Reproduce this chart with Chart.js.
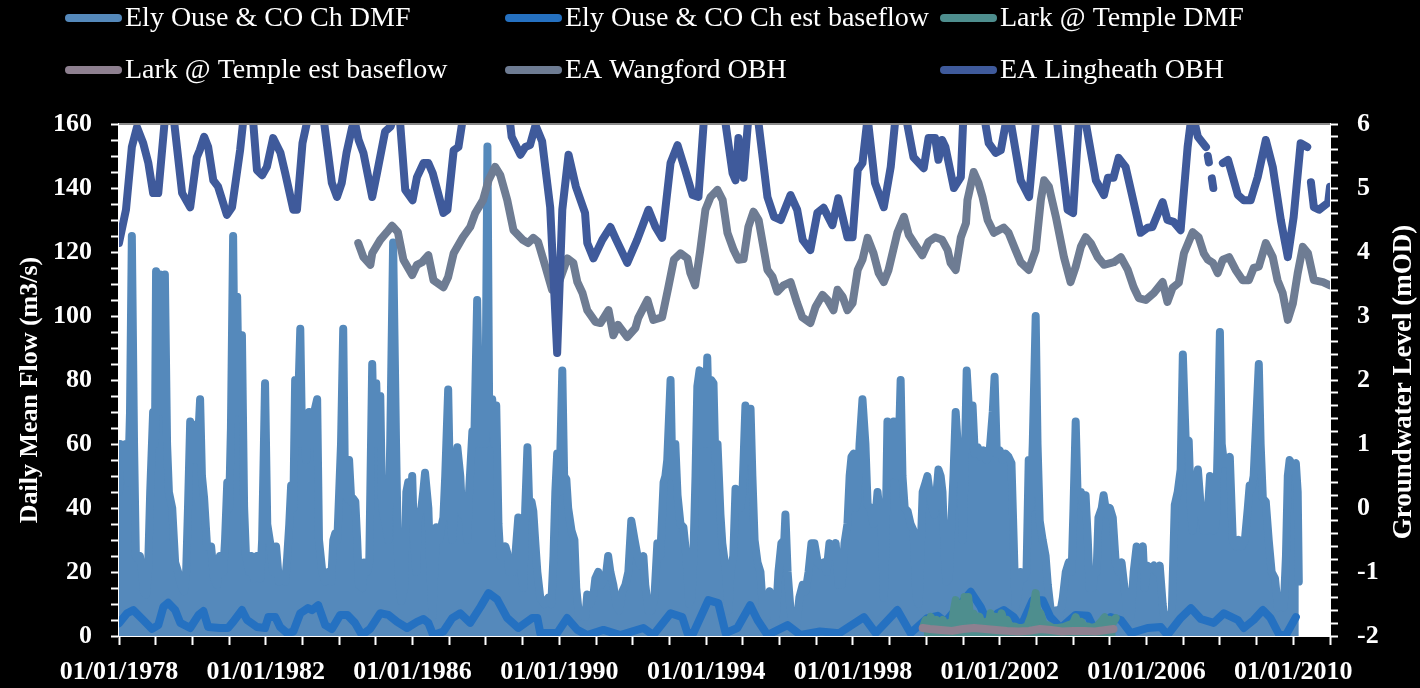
<!DOCTYPE html>
<html>
<head>
<meta charset="utf-8">
<script src="https://cdn.jsdelivr.net/npm/chart.js@4.4.1/dist/chart.umd.min.js"></script>
<style>
  html, body { margin: 0; padding: 0; background: #000; }
</style>
</head>
<body>
<canvas id="flowChart" width="1420" height="688"></canvas>
<script>
// [decimal year, value] - DMF traced as the envelope of the daily record
const elyDmf = [
  [1978.00,45],[1978.03,60],[1978.11,55],[1978.19,60],[1978.25,48],[1978.30,70],[1978.35,125],[1978.41,60],[1978.46,25],[1978.52,24],
  [1978.57,25],[1978.63,20],[1978.68,14],[1978.74,13],[1978.79,20],[1978.85,45],[1978.93,70],[1978.98,60],[1979.01,114],[1979.06,75],
  [1979.12,113],[1979.17,70],[1979.25,113],[1979.31,60],[1979.36,45],[1979.45,40],[1979.53,23],[1979.61,20],[1979.69,16],[1979.77,14],
  [1979.83,20],[1979.88,40],[1979.94,67],[1979.99,55],[1980.05,66],[1980.13,55],[1980.21,74],[1980.26,50],[1980.32,43],[1980.40,28],
  [1980.51,28],[1980.59,18],[1980.67,16],[1980.75,25],[1980.84,20],[1980.89,30],[1980.95,48],[1981.00,40],[1981.05,65],[1981.11,125],
  [1981.16,70],[1981.22,106],[1981.27,70],[1981.35,94],[1981.41,40],[1981.46,25],[1981.55,20],[1981.60,25],[1981.68,18],[1981.76,25],
  [1981.85,18],[1981.90,30],[1981.98,79],[1982.04,35],[1982.12,29],[1982.20,20],[1982.28,28],[1982.36,17],[1982.44,19],[1982.53,17],
  [1982.58,24],[1982.64,35],[1982.69,47],[1982.75,40],[1982.80,80],[1982.85,60],[1982.94,96],[1982.99,60],[1983.04,62],[1983.10,55],
  [1983.18,70],[1983.24,60],[1983.32,70],[1983.40,74],[1983.45,30],[1983.54,20],[1983.62,17],[1983.70,20],[1983.78,17],[1983.84,30],
  [1983.89,32],[1983.95,30],[1984.00,45],[1984.05,60],[1984.11,96],[1984.16,45],[1984.22,43],[1984.27,55],[1984.33,42],[1984.38,43],
  [1984.44,42],[1984.49,30],[1984.54,16],[1984.63,15],[1984.68,23],[1984.76,20],[1984.82,23],[1984.90,85],[1984.95,60],[1985.01,79],
  [1985.06,60],[1985.12,75],[1985.17,40],[1985.25,36],[1985.34,30],[1985.39,60],[1985.47,123],[1985.55,60],[1985.61,20],[1985.69,11],
  [1985.77,15],[1985.83,45],[1985.88,48],[1985.94,40],[1985.99,50],[1986.04,30],[1986.10,20],[1986.15,37],[1986.24,40],[1986.29,45],
  [1986.34,51],[1986.43,40],[1986.48,22],[1986.54,6],[1986.59,20],[1986.65,34],[1986.73,30],[1986.78,34],[1986.84,37],[1986.89,50],
  [1986.97,77],[1987.03,40],[1987.08,30],[1987.16,45],[1987.22,59],[1987.30,50],[1987.35,38],[1987.44,38],[1987.49,30],[1987.54,45],
  [1987.63,64],[1987.68,60],[1987.76,105],[1987.82,65],[1987.87,60],[1987.93,72],[1987.98,60],[1988.04,153],[1988.09,65],[1988.17,74],
  [1988.23,60],[1988.28,72],[1988.34,35],[1988.39,25],[1988.47,25],[1988.53,28],[1988.58,26],[1988.64,20],[1988.72,20],[1988.80,25],
  [1988.88,37],[1988.96,20],[1989.02,15],[1989.07,40],[1989.13,59],[1989.18,40],[1989.24,42],[1989.29,39],[1989.34,30],[1989.40,20],
  [1989.48,12],[1989.59,10],[1989.70,12],[1989.78,10],[1989.84,25],[1989.89,45],[1989.94,57],[1990.00,45],[1990.08,83],[1990.13,50],
  [1990.19,49],[1990.24,40],[1990.33,33],[1990.41,30],[1990.46,15],[1990.54,6],[1990.63,8],[1990.71,6],[1990.76,13],[1990.84,10],
  [1990.93,13],[1990.98,18],[1991.06,20],[1991.14,16],[1991.23,18],[1991.28,20],[1991.33,25],[1991.39,20],[1991.47,16],[1991.55,10],
  [1991.63,8],[1991.72,14],[1991.80,16],[1991.88,20],[1991.96,36],[1992.05,30],[1992.13,25],[1992.21,22],[1992.29,25],[1992.34,16],
  [1992.43,8],[1992.51,8],[1992.59,12],[1992.67,29],[1992.75,25],[1992.84,48],[1992.89,50],[1992.94,55],[1993.03,80],[1993.08,50],
  [1993.16,60],[1993.22,44],[1993.30,35],[1993.38,34],[1993.46,25],[1993.54,10],[1993.60,12],[1993.65,24],[1993.71,50],[1993.76,78],
  [1993.82,83],[1993.87,60],[1993.93,75],[1993.98,60],[1994.03,87],[1994.09,60],[1994.14,80],[1994.20,79],[1994.25,55],[1994.31,60],
  [1994.39,38],[1994.44,29],[1994.53,21],[1994.61,8],[1994.66,20],[1994.74,25],[1994.80,46],[1994.85,40],[1994.93,40],[1994.99,45],
  [1995.07,72],[1995.13,55],[1995.21,71],[1995.26,50],[1995.32,30],[1995.40,23],[1995.48,20],[1995.56,6],[1995.64,6],[1995.73,14],
  [1995.81,10],[1995.89,4],[1995.97,20],[1996.05,29],[1996.13,30],[1996.16,38],[1996.22,20],[1996.30,8],[1996.38,3],[1996.46,3],
  [1996.54,12],[1996.63,16],[1996.71,14],[1996.79,20],[1996.87,29],[1996.95,29],[1997.04,23],[1997.12,22],[1997.20,23],[1997.28,20],
  [1997.36,29],[1997.44,25],[1997.53,29],[1997.61,16],[1997.69,16],[1997.77,29],[1997.85,35],[1997.91,50],[1997.96,56],[1998.02,57],
  [1998.07,40],[1998.12,42],[1998.18,60],[1998.26,74],[1998.34,60],[1998.40,41],[1998.48,40],[1998.56,35],[1998.62,38],[1998.67,45],
  [1998.73,38],[1998.78,35],[1998.84,12],[1998.89,30],[1998.94,67],[1999.00,50],[1999.05,60],[1999.11,67],[1999.19,50],[1999.24,55],
  [1999.30,80],[1999.35,50],[1999.41,40],[1999.49,39],[1999.57,35],[1999.65,33],[1999.73,12],[1999.79,10],[1999.84,25],[1999.90,45],
  [1999.98,48],[2000.03,50],[2000.09,45],[2000.17,40],[2000.22,38],[2000.28,45],[2000.33,52],[2000.39,50],[2000.44,45],[2000.50,25],
  [2000.55,17],[2000.61,18],[2000.66,30],[2000.74,50],[2000.80,70],[2000.88,55],[2000.93,60],[2000.99,30],[2001.04,50],[2001.10,83],
  [2001.15,73],[2001.21,60],[2001.26,72],[2001.32,57],[2001.40,59],[2001.48,56],[2001.56,58],[2001.64,55],[2001.72,57],[2001.81,70],
  [2001.86,81],[2001.92,57],[2002.00,58],[2002.08,55],[2002.16,57],[2002.24,56],[2002.32,54],[2002.38,30],[2002.43,9],[2002.49,12],
  [2002.57,20],[2002.65,18],[2002.73,20],[2002.79,55],[2002.84,40],[2002.90,60],[2002.98,100],[2003.03,60],[2003.09,36],[2003.17,30],
  [2003.25,25],[2003.31,16],[2003.39,8],[2003.47,6],[2003.55,8],[2003.63,6],[2003.72,12],[2003.80,20],[2003.88,23],[2003.96,20],
  [2004.01,40],[2004.07,67],[2004.12,45],[2004.21,45],[2004.29,40],[2004.34,44],[2004.40,30],[2004.45,15],[2004.53,15],[2004.58,20],
  [2004.64,20],[2004.69,37],[2004.78,40],[2004.83,44],[2004.91,38],[2005.00,40],[2005.08,37],[2005.16,23],[2005.24,20],[2005.32,23],
  [2005.40,15],[2005.49,6],[2005.57,6],[2005.65,20],[2005.73,28],[2005.82,25],[2005.90,28],[2005.95,15],[2006.03,22],[2006.11,21],
  [2006.20,22],[2006.28,20],[2006.36,22],[2006.44,10],[2006.52,2],[2006.61,3],[2006.69,8],[2006.77,41],[2006.85,45],[2006.93,52],
  [2006.99,88],[2007.07,60],[2007.15,61],[2007.21,40],[2007.26,33],[2007.34,45],[2007.40,52],[2007.48,40],[2007.56,33],[2007.64,33],
  [2007.73,50],[2007.78,49],[2007.83,33],[2007.89,35],[2007.94,60],[2008.00,95],[2008.05,60],[2008.11,54],[2008.19,54],[2008.27,56],
  [2008.35,30],[2008.43,28],[2008.51,30],[2008.59,28],[2008.68,30],[2008.76,40],[2008.81,47],[2008.86,46],[2008.92,50],[2009.00,70],
  [2009.06,85],[2009.11,60],[2009.17,43],[2009.25,42],[2009.33,30],[2009.41,20],[2009.50,18],[2009.58,9],[2009.66,10],[2009.74,9],
  [2009.80,25],[2009.85,50],[2009.90,55],[2009.99,53],[2010.07,54],[2010.12,45],[2010.15,17]
];

const elyBase = [
  [1978.00,4.0],[1978.22,7.1],[1978.39,8.1],[1978.66,5.0],[1978.90,2.2],[1979.07,3.4],[1979.21,9.1],[1979.34,10.4],[1979.53,8.1],
  [1979.67,4.1],[1979.94,2.5],[1980.17,6.6],[1980.30,7.8],[1980.43,2.8],[1980.75,2.5],[1980.97,2.5],[1981.11,4.4],[1981.35,8.1],
  [1981.49,5.0],[1981.76,2.8],[1981.98,2.5],[1982.07,5.9],[1982.26,5.9],[1982.39,2.8],[1982.58,0.9],[1982.75,1.4],[1982.94,7.1],
  [1983.15,8.7],[1983.26,8.1],[1983.43,9.6],[1983.62,3.4],[1983.80,2.2],[1984.03,6.6],[1984.22,6.6],[1984.43,4.1],[1984.62,0.3],
  [1984.84,2.2],[1985.12,7.1],[1985.34,6.6],[1985.58,4.4],[1985.85,2.5],[1986.12,4.4],[1986.30,5.3],[1986.43,4.1],[1986.56,0.3],
  [1986.84,1.4],[1987.08,5.6],[1987.30,7.1],[1987.57,4.1],[1987.85,9.1],[1988.07,13.4],[1988.30,11.5],[1988.58,5.6],[1988.88,2.5],
  [1989.26,5.6],[1989.40,5.6],[1989.48,0.9],[1989.94,0.9],[1990.21,5.6],[1990.49,1.9],[1990.76,0.3],[1991.20,1.9],[1991.66,0.3],
  [1992.29,2.5],[1992.56,0.3],[1993.03,7.1],[1993.35,5.9],[1993.49,0.9],[1993.65,0.9],[1994.06,11.2],[1994.33,10.3],[1994.53,0.9],
  [1994.85,2.5],[1995.20,9.6],[1995.40,5.0],[1995.67,0.3],[1996.22,3.4],[1996.57,0.3],[1997.10,1.4],[1997.63,0.9],[1998.30,5.9],
  [1998.62,0.9],[1999.21,8.1],[1999.57,0.9],[2000.03,5.6],[2000.31,6.3],[2000.52,4.4],[2001.21,13.8],[2001.48,9.1],[2001.67,4.1],
  [2001.94,7.1],[2002.11,8.1],[2002.38,5.9],[2002.57,2.8],[2002.90,11.2],[2003.17,11.2],[2003.38,5.9],[2003.66,2.5],[2004.07,6.6],
  [2004.40,6.3],[2004.56,2.5],[2005.02,5.9],[2005.30,5.0],[2005.57,0.9],[2006.03,2.5],[2006.39,2.8],[2006.57,0.3],[2006.93,5.6],
  [2007.21,8.7],[2007.48,5.3],[2007.83,4.1],[2008.11,7.1],[2008.49,5.0],[2008.65,2.5],[2008.92,5.0],[2009.17,8.1],[2009.38,5.6],
  [2009.62,0.3],[2009.80,0.3],[2010.07,5.9]
];

const larkDmf = [
  [1999.93,3.4],[1999.98,5],[2000.05,3],[2000.12,6],[2000.20,3.5],[2000.28,5],[2000.36,3],[2000.45,5],[2000.52,3],[2000.60,4],
  [2000.68,2.5],[2000.75,8],[2000.80,11.2],[2000.85,5],[2000.92,10],[2000.98,4],[2001.04,12.2],[2001.10,6],[2001.14,12.2],[2001.20,5],
  [2001.29,7],[2001.36,4],[2001.45,6],[2001.53,3],[2001.62,4.4],[2001.69,2.5],[2001.75,7.1],[2001.82,4],[2001.90,6],[2001.97,3.5],
  [2002.05,7.1],[2002.12,4],[2002.20,5],[2002.28,2.8],[2002.40,3],[2002.50,2.5],[2002.62,2.5],[2002.75,3],[2002.85,6],[2002.92,9],
  [2002.98,13.4],[2003.03,6],[2003.11,7.1],[2003.20,3.5],[2003.30,3.4],[2003.45,2.5],[2003.60,2.5],[2003.75,2.8],[2003.90,3.5],
  [2004.00,4],[2004.07,5.9],[2004.14,3.5],[2004.22,4.4],[2004.30,3],[2004.40,3],[2004.50,2.5],[2004.65,3],[2004.80,5],[2004.86,5.9],
  [2004.92,3.5],[2005.00,5],[2005.08,4],[2005.16,5.6]
];

const larkBase = [
  [1999.90,2.5],[2000.10,2.2],[2000.40,1.9],[2000.70,1.6],[2001.00,2.2],[2001.30,2.5],[2001.60,2.2],[2001.90,1.9],[2002.20,1.6],
  [2002.50,1.4],[2002.80,1.6],[2003.10,2.2],[2003.40,1.9],[2003.70,1.4],[2004.00,1.6],[2004.30,1.6],[2004.60,1.4],[2004.90,1.9],
  [2005.10,2.2]
];

const wangford = [
  [1984.52,4.14],[1984.66,3.92],[1984.85,3.80],[1984.90,3.98],[1985.12,4.19],[1985.30,4.31],[1985.44,4.41],[1985.60,4.31],
  [1985.75,3.88],[1985.99,3.64],[1986.12,3.80],[1986.26,3.84],[1986.43,3.95],[1986.57,3.56],[1986.84,3.45],[1986.97,3.61],
  [1987.12,3.98],[1987.37,4.23],[1987.57,4.39],[1987.71,4.61],[1987.92,4.81],[1988.07,5.12],[1988.25,5.33],[1988.39,5.20],
  [1988.58,4.81],[1988.75,4.34],[1989.00,4.19],[1989.15,4.14],[1989.29,4.22],[1989.42,4.16],[1989.62,3.77],[1989.80,3.41],
  [1989.94,3.45],[1990.22,3.90],[1990.38,3.83],[1990.49,3.53],[1990.63,3.36],[1990.76,3.09],[1990.98,2.91],[1991.12,2.89],
  [1991.34,3.09],[1991.47,2.70],[1991.60,2.86],[1991.85,2.67],[1992.07,2.81],[1992.15,2.97],[1992.40,3.25],[1992.56,2.94],
  [1992.80,2.98],[1992.97,3.45],[1993.12,3.88],[1993.30,3.98],[1993.49,3.90],[1993.57,3.67],[1993.70,3.48],[1993.84,4.03],
  [1993.98,4.66],[1994.12,4.86],[1994.31,4.97],[1994.45,4.81],[1994.58,4.30],[1994.75,4.03],[1994.88,3.88],[1995.02,3.89],
  [1995.15,4.39],[1995.29,4.63],[1995.43,4.50],[1995.67,3.72],[1995.81,3.61],[1995.94,3.38],[1996.11,3.48],[1996.30,3.53],
  [1996.48,3.20],[1996.62,2.98],[1996.84,2.89],[1996.98,3.14],[1997.17,3.33],[1997.31,3.25],[1997.47,3.09],[1997.58,3.41],
  [1997.72,3.30],[1997.85,3.09],[1997.99,3.20],[1998.13,3.72],[1998.26,3.88],[1998.40,4.22],[1998.56,3.98],[1998.70,3.67],
  [1998.84,3.53],[1998.97,3.72],[1999.21,4.30],[1999.39,4.55],[1999.52,4.27],[1999.70,4.11],[1999.89,3.95],[2000.06,4.16],
  [2000.24,4.23],[2000.43,4.19],[2000.58,4.03],[2000.66,3.83],[2000.80,3.72],[2000.94,4.23],[2001.08,4.45],[2001.12,4.81],
  [2001.29,5.25],[2001.42,5.08],[2001.53,4.86],[2001.67,4.50],[2001.84,4.30],[2001.97,4.34],[2002.11,4.38],[2002.24,4.30],
  [2002.43,4.03],[2002.57,3.84],[2002.79,3.72],[2002.98,4.03],[2003.12,4.81],[2003.21,5.12],[2003.34,5.02],[2003.53,4.55],
  [2003.75,3.92],[2003.93,3.53],[2004.07,3.77],[2004.21,4.08],[2004.34,4.23],[2004.48,4.14],[2004.67,3.92],[2004.84,3.80],
  [2005.11,3.84],[2005.30,3.92],[2005.49,3.72],[2005.65,3.45],[2005.79,3.28],[2005.98,3.25],[2006.20,3.36],[2006.44,3.53],
  [2006.57,3.22],[2006.71,3.44],[2006.88,3.52],[2007.02,3.98],[2007.26,4.31],[2007.42,4.23],[2007.56,3.98],[2007.67,3.88],
  [2007.81,3.83],[2007.94,3.67],[2008.08,3.88],[2008.25,3.92],[2008.43,3.72],[2008.62,3.56],[2008.79,3.56],[2008.92,3.75],
  [2009.06,3.77],[2009.25,4.14],[2009.44,3.92],[2009.57,3.56],[2009.71,3.36],[2009.85,2.94],[2009.99,3.20],[2010.12,3.67],
  [2010.26,4.08],[2010.40,3.98],[2010.56,3.56],[2010.81,3.53],[2011.00,3.48]
];

const lingheath = [
  [1978.00,4.14],[1978.19,4.66],[1978.35,5.64],[1978.49,5.95],[1978.66,5.70],[1978.80,5.39],[1978.93,4.92],[1979.07,4.92],
  [1979.30,6.40],[1979.45,6.30],[1979.72,4.92],[1979.94,4.70],[1980.12,5.48],[1980.20,5.59],[1980.32,5.80],[1980.43,5.64],
  [1980.57,5.12],[1980.70,5.02],[1980.94,4.58],[1981.08,4.70],[1981.30,5.59],[1981.45,6.40],[1981.62,6.30],[1981.76,5.28],
  [1981.90,5.20],[1982.03,5.33],[1982.20,5.78],[1982.40,5.55],[1982.53,5.23],[1982.75,4.66],[1982.85,4.66],[1983.00,5.70],
  [1983.30,6.50],[1983.55,6.20],[1983.80,5.08],[1983.94,4.86],[1984.07,5.08],[1984.20,5.55],[1984.35,5.94],[1984.42,6.05],
  [1984.53,5.75],[1984.66,5.55],[1984.90,4.86],[1985.03,5.23],[1985.25,5.88],[1985.40,5.96],[1985.55,6.20],[1985.65,6.10],
  [1985.80,4.97],[1986.00,4.81],[1986.12,5.17],[1986.30,5.39],[1986.43,5.39],[1986.55,5.23],[1986.84,4.61],[1986.95,4.66],
  [1987.12,5.59],[1987.25,5.64],[1987.40,6.20],[1987.70,6.60],[1988.10,6.60],[1988.50,6.30],[1988.66,6.00],[1988.70,5.80],
  [1988.94,5.52],[1989.07,5.64],[1989.20,5.67],[1989.35,5.98],[1989.53,5.73],[1989.75,4.70],[1989.94,2.42],[1990.08,4.66],
  [1990.25,5.52],[1990.45,5.02],[1990.70,4.61],[1990.76,4.14],[1990.93,3.90],[1991.17,4.19],[1991.39,4.39],[1991.55,4.19],
  [1991.85,3.83],[1992.12,4.19],[1992.43,4.66],[1992.62,4.39],[1992.80,4.22],[1993.03,5.39],[1993.22,5.67],[1993.43,5.28],
  [1993.63,4.89],[1993.79,4.86],[1993.93,6.00],[1994.10,6.50],[1994.40,6.40],[1994.53,6.00],[1994.72,5.23],[1994.80,5.12],
  [1994.88,5.78],[1995.02,5.16],[1995.15,6.10],[1995.30,6.40],[1995.43,6.00],[1995.67,4.86],[1995.85,4.55],[1996.03,4.50],
  [1996.30,4.89],[1996.48,4.66],[1996.63,4.19],[1996.84,4.03],[1997.03,4.61],[1997.20,4.69],[1997.44,4.42],[1997.60,4.84],
  [1997.85,4.23],[1997.99,4.23],[1998.13,5.28],[1998.26,5.39],[1998.40,6.10],[1998.60,5.08],[1998.84,4.70],[1999.03,5.33],
  [1999.16,6.10],[1999.35,6.30],[1999.48,6.00],[1999.65,5.48],[1999.93,5.31],[2000.06,5.78],[2000.24,5.78],[2000.33,5.44],
  [2000.43,5.75],[2000.52,5.64],[2000.75,5.00],[2000.94,5.17],[2001.00,6.00],[2001.25,6.50],[2001.55,6.20],[2001.70,5.70],
  [2001.89,5.55],[2002.03,5.59],[2002.16,6.00],[2002.25,6.20],[2002.57,5.12],[2002.80,4.86],[2002.98,6.00],[2003.20,6.50],
  [2003.45,6.30],[2003.57,6.00],[2003.85,4.66],[2004.00,4.61],[2004.15,6.00],[2004.27,6.10],[2004.35,6.00],[2004.62,5.12],
  [2004.84,4.89],[2004.95,5.16],[2005.10,5.16],[2005.24,5.47],[2005.43,5.33],[2005.84,4.30],[2006.03,4.38],[2006.16,4.39],
  [2006.44,4.78],[2006.57,4.50],[2006.74,4.47],[2006.93,4.34],[2007.12,5.64],[2007.21,6.05],[2007.30,6.05],[2007.40,5.80],
  [2007.62,5.64],[2007.645,null],[2007.67,5.50],[2007.70,5.40],[2007.73,null],[2007.78,5.15],[2007.82,5.00],[2007.90,null],
  [2008.08,5.39],[2008.22,5.44],[2008.30,5.28],[2008.49,4.89],[2008.65,4.81],[2008.84,4.81],[2009.03,5.17],[2009.25,5.75],
  [2009.44,5.33],[2009.66,4.50],[2009.85,3.92],[2010.01,4.55],[2010.20,5.70],[2010.38,5.64],[2010.43,null],[2010.48,5.09],
  [2010.56,4.70],[2010.70,4.66],[2010.95,4.77],[2011.00,5.02]
];

const seriesLabels = [
  'Ely Ouse & CO Ch DMF', 'Ely Ouse & CO Ch est baseflow', 'Lark @ Temple DMF',
  'Lark @ Temple est baseflow', 'EA Wangford OBH', 'EA Lingheath OBH'
];
const seriesColors = ['#5589bb', '#2571c1', '#4e8e8e', '#8e8090', '#6e7c93', '#3f5a9b'];
const seriesData = [elyDmf, elyBase, larkDmf, larkBase, wangford, lingheath];
const seriesAxis = ['y', 'y', 'y', 'y', 'y2', 'y2'];
// daily flow records draw as a solid band under their envelope
const seriesFill = ['origin', false, 'origin', false, false, false];

const FONT = '"Liberation Serif", "Times New Roman", serif';
Chart.defaults.font.family = FONT;

const toXY = pts => pts.map(([x, y]) => ({ x, y }));

const datasets = seriesData.map((pts, i) => ({
  label: seriesLabels[i],
  data: toXY(pts),
  yAxisID: seriesAxis[i],
  borderColor: seriesColors[i],
  backgroundColor: seriesColors[i],
  fill: seriesFill[i],
  borderWidth: 8,
  borderJoinStyle: 'round',
  borderCapStyle: 'round',
  pointRadius: 0,
  tension: 0,
  spanGaps: false,
  clip: 0,
  order: seriesData.length - i
}));

// white plot area, top border, axis titles and a 3-column legend
const decorations = {
  id: 'decorations',
  beforeDraw(chart) {
    const { ctx, chartArea: a } = chart;
    ctx.save();
    ctx.fillStyle = '#fff';
    ctx.fillRect(a.left, a.top, a.right - a.left, a.bottom - a.top);
    ctx.restore();
  },
  afterDraw(chart) {
    const { ctx, chartArea: a } = chart;
    ctx.save();
    ctx.strokeStyle = '#8c8c8c';
    ctx.lineWidth = 2;
    ctx.beginPath();
    ctx.moveTo(a.left, a.top);
    ctx.lineTo(a.right, a.top);
    ctx.stroke();

    ctx.fillStyle = '#fff';
    ctx.textAlign = 'center';
    ctx.textBaseline = 'middle';
    ctx.font = 'bold 26px ' + FONT;
    ctx.save();
    ctx.translate(30, 390);
    ctx.rotate(-Math.PI / 2);
    ctx.fillText('Daily Mean Flow (m3/s)', 0, 0);
    ctx.restore();
    ctx.font = 'bold 27px ' + FONT;
    ctx.save();
    ctx.translate(1404, 382);
    ctx.rotate(-Math.PI / 2);
    ctx.fillText('Groundwater Level (mOD)', 0, 0);
    ctx.restore();

    const cols = [65, 505, 940];
    const rows = [18, 70];
    ctx.font = '28px ' + FONT;
    ctx.textAlign = 'left';
    seriesLabels.forEach((label, i) => {
      const x = cols[i % 3];
      const y = rows[Math.floor(i / 3)];
      ctx.strokeStyle = seriesColors[i];
      ctx.lineWidth = 8;
      ctx.lineCap = 'round';
      ctx.beginPath();
      ctx.moveTo(x + 4, y);
      ctx.lineTo(x + 53, y);
      ctx.stroke();
      ctx.fillStyle = '#fff';
      ctx.fillText(label, x + 60, y + 1);
    });
    ctx.restore();
  }
};

const tickFont = { size: 26, weight: 'bold' };

new Chart(document.getElementById('flowChart'), {
  type: 'line',
  data: { datasets },
  options: {
    responsive: false,
    animation: false,
    layout: { padding: { top: 124, left: 0, right: 0, bottom: 0 } },
    plugins: { legend: { display: false }, tooltip: { enabled: false } },
    scales: {
      x: {
        type: 'linear',
        min: 1978,
        max: 2011,
        border: { color: '#fff', width: 2 },
        grid: { drawOnChartArea: false, color: '#fff', tickLength: 9, tickWidth: 2 },
        ticks: {
          stepSize: 1,
          autoSkip: false,
          maxRotation: 0,
          padding: 12,
          color: '#fff',
          font: tickFont,
          callback: v => ((v - 1978) % 4 === 0 ? '01/01/' + v : '')
        },
        afterFit: s => { s.height = 52; }
      },
      y: {
        position: 'left',
        min: 0,
        max: 160,
        border: { color: '#fff', width: 2 },
        grid: { drawOnChartArea: false, color: '#fff', tickLength: 8, tickWidth: 2 },
        ticks: {
          stepSize: 5,
          autoSkip: false,
          padding: 19,
          color: '#fff',
          font: tickFont,
          callback: v => (v % 20 === 0 ? v : '')
        },
        afterFit: s => { s.width = 119; }
      },
      y2: {
        position: 'right',
        min: -2,
        max: 6,
        border: { color: '#fff', width: 2 },
        grid: { drawOnChartArea: false, color: '#fff', tickLength: 8, tickWidth: 2 },
        ticks: {
          stepSize: 0.2,
          autoSkip: false,
          padding: 19,
          color: '#fff',
          font: tickFont,
          callback: v => (Math.abs(v - Math.round(v)) < 1e-6 ? Math.round(v) : '')
        },
        afterFit: s => { s.width = 90; }
      }
    }
  },
  plugins: [decorations]
});
</script>
</body>
</html>
